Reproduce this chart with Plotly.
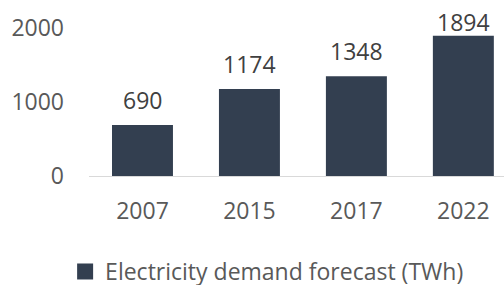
import plotly.graph_objects as go

years = ["2007", "2015", "2017", "2022"]
demand = [690, 1174, 1348, 1894]
series_name = "Electricity demand forecast (TWh)"
y_ticks = [0, 1000, 2000]

# label offsets (style)
label_shift = [25, 25, 25, 14]

bar_color = "#333F50"
text_color = "#595959"
font_family = "Open Sans"
fs = 23

fig = go.Figure()
fig.add_trace(go.Bar(
    x=years, y=demand, name=series_name,
    marker=dict(color=bar_color, line=dict(width=0)),
    width=0.57, showlegend=False,
))
# legend entry with larger square swatch
fig.add_trace(go.Scatter(
    x=[None], y=[None], mode="markers", name=series_name,
    marker=dict(symbol="square", size=16, color=bar_color),
    showlegend=True, hoverinfo="skip",
))

annotations = []
for i, (yv, s) in enumerate(zip(demand, label_shift)):
    annotations.append(dict(x=i, y=yv, xref="x", yref="y", text=str(yv),
                            showarrow=False, yanchor="middle", yshift=s,
                            font=dict(family=font_family, size=fs, color="#404040")))

fig.update_layout(
    width=504, height=285,
    margin=dict(l=89, r=0, t=0, b=109, autoexpand=False),
    paper_bgcolor="white", plot_bgcolor="white",
    font=dict(family=font_family, size=fs, color=text_color),
    annotations=annotations,
    legend=dict(orientation="h", x=0.530, xanchor="center", xref="container",
                y=-0.665, yanchor="bottom", yref="paper",
                font=dict(family=font_family, size=fs, color=text_color),
                itemwidth=30),
)
fig.update_xaxes(
    type="category", range=[-0.5, 3.38],
    showline=True, linecolor="#D9D9D9", linewidth=1,
    ticks="", ticklabelstandoff=14,
    tickfont=dict(family=font_family, size=fs, color=text_color),
    showgrid=False, zeroline=False,
)
fig.update_yaxes(
    range=[0, 2378], tickvals=y_ticks, ticktext=[str(v) for v in y_ticks],
    showgrid=False, zeroline=False, showline=False,
    ticks="", ticklabelstandoff=24,
    tickfont=dict(family=font_family, size=fs, color=text_color),
)

fig.write_html("out.html", config={"displayModeBar": False},
               post_script="document.body.style.margin='0';")
